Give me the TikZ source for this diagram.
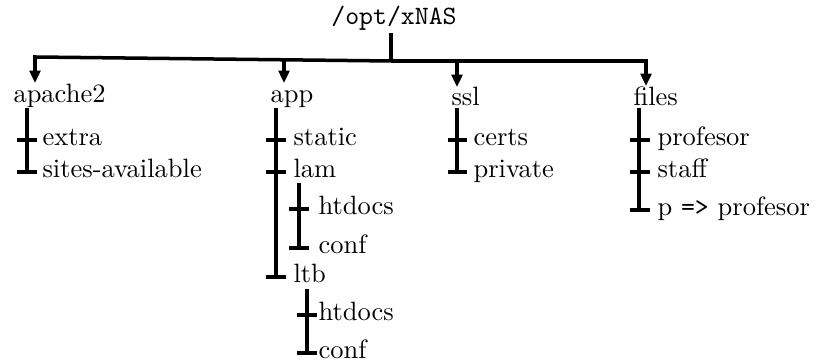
\documentclass[tikz,border=0pt]{standalone}
\usetikzlibrary{arrows.meta}
\begin{document}
\begin{tikzpicture}[x=0.385pt,y=-0.385pt,
  conn/.style={line width=1.35pt},
  arr/.style={conn,-{Triangle[length=4.8pt,width=4.2pt]}},
  lbl/.style={inner sep=0pt,anchor=base west,font=\fontsize{10.2}{12}\selectfont},
  tickmark/.style={line width=1.35pt}]
\useasboundingbox (0,0) rectangle (816,364);
% root
\node[inner sep=0pt,anchor=base,font=\ttfamily\fontsize{10.2}{12}\selectfont] (root) at (394,25) {/opt/xNAS};
\coordinate (rb) at (391,33);
\coordinate (j) at (391,61);
% children labels
\node[lbl] (apache) at (13,103) {apache2};
\node[lbl] (app) at (270,103) {app};
\node[lbl] (ssl) at (451,106) {ssl};
\node[lbl] (files) at (633,106) {files};
% arrow targets
\coordinate (tA) at (35,83);
\coordinate (tB) at (284,83);
\coordinate (tC) at (457,87);
\coordinate (tD) at (646,86);
% trunk
\draw[conn] (rb) -- (j);
\draw[arr] (j) -- (35,57) -- (tA);
\draw[arr] (j) -- (646,61) -- (tD);
\draw[arr] (284,60) -- (tB);
\draw[arr] (457,61) -- (tC);
% apache2 subtree
\node[lbl] (extra) at (42,146) {extra};
\node[lbl] (sites) at (42,178) {sites-available};
\draw[conn] (27,108) -- (27,172);
\draw[tickmark] (17,140) -- (37,140);
\draw[tickmark] (17,172) -- (37,172);
% app subtree
\node[lbl] (static) at (293,146) {static};
\node[lbl] (lam) at (293,178) {lam};
\node[lbl] (lamhtdocs) at (318,215) {htdocs};
\node[lbl] (lamconf) at (318,254) {conf};
\node[lbl] (ltb) at (293,283) {ltb};
\node[lbl] (ltbhtdocs) at (318,321) {htdocs};
\node[lbl] (ltbconf) at (318,359) {conf};
\draw[conn] (276,108) -- (276,277);
\draw[tickmark] (266,140) -- (286,140);
\draw[tickmark] (266,172) -- (286,172);
\draw[tickmark] (266,277) -- (286,277);
\draw[conn] (299,183) -- (299,248);
\draw[tickmark] (289,209) -- (309,209);
\draw[tickmark] (289,248) -- (309,248);
\draw[conn] (307,289) -- (307,353);
\draw[tickmark] (297,315) -- (317,315);
\draw[tickmark] (297,353) -- (317,353);
% ssl subtree
\node[lbl] (certs) at (473,146) {certs};
\node[lbl] (private) at (473,178) {private};
\draw[conn] (457,108) -- (457,172);
\draw[tickmark] (448,140) -- (467,140);
\draw[tickmark] (448,172) -- (467,172);
% files subtree
\node[lbl] (prof) at (657,146) {profesor};
\node[lbl] (staff) at (657,178) {staff};
\node[lbl] (plink) at (657,216) {p \texttt{=>} profesor};
\draw[conn] (639,108) -- (639,210);
\draw[tickmark] (630,140) -- (650,140);
\draw[tickmark] (630,172) -- (650,172);
\draw[tickmark] (630,210) -- (650,210);
\end{tikzpicture}
\end{document}
